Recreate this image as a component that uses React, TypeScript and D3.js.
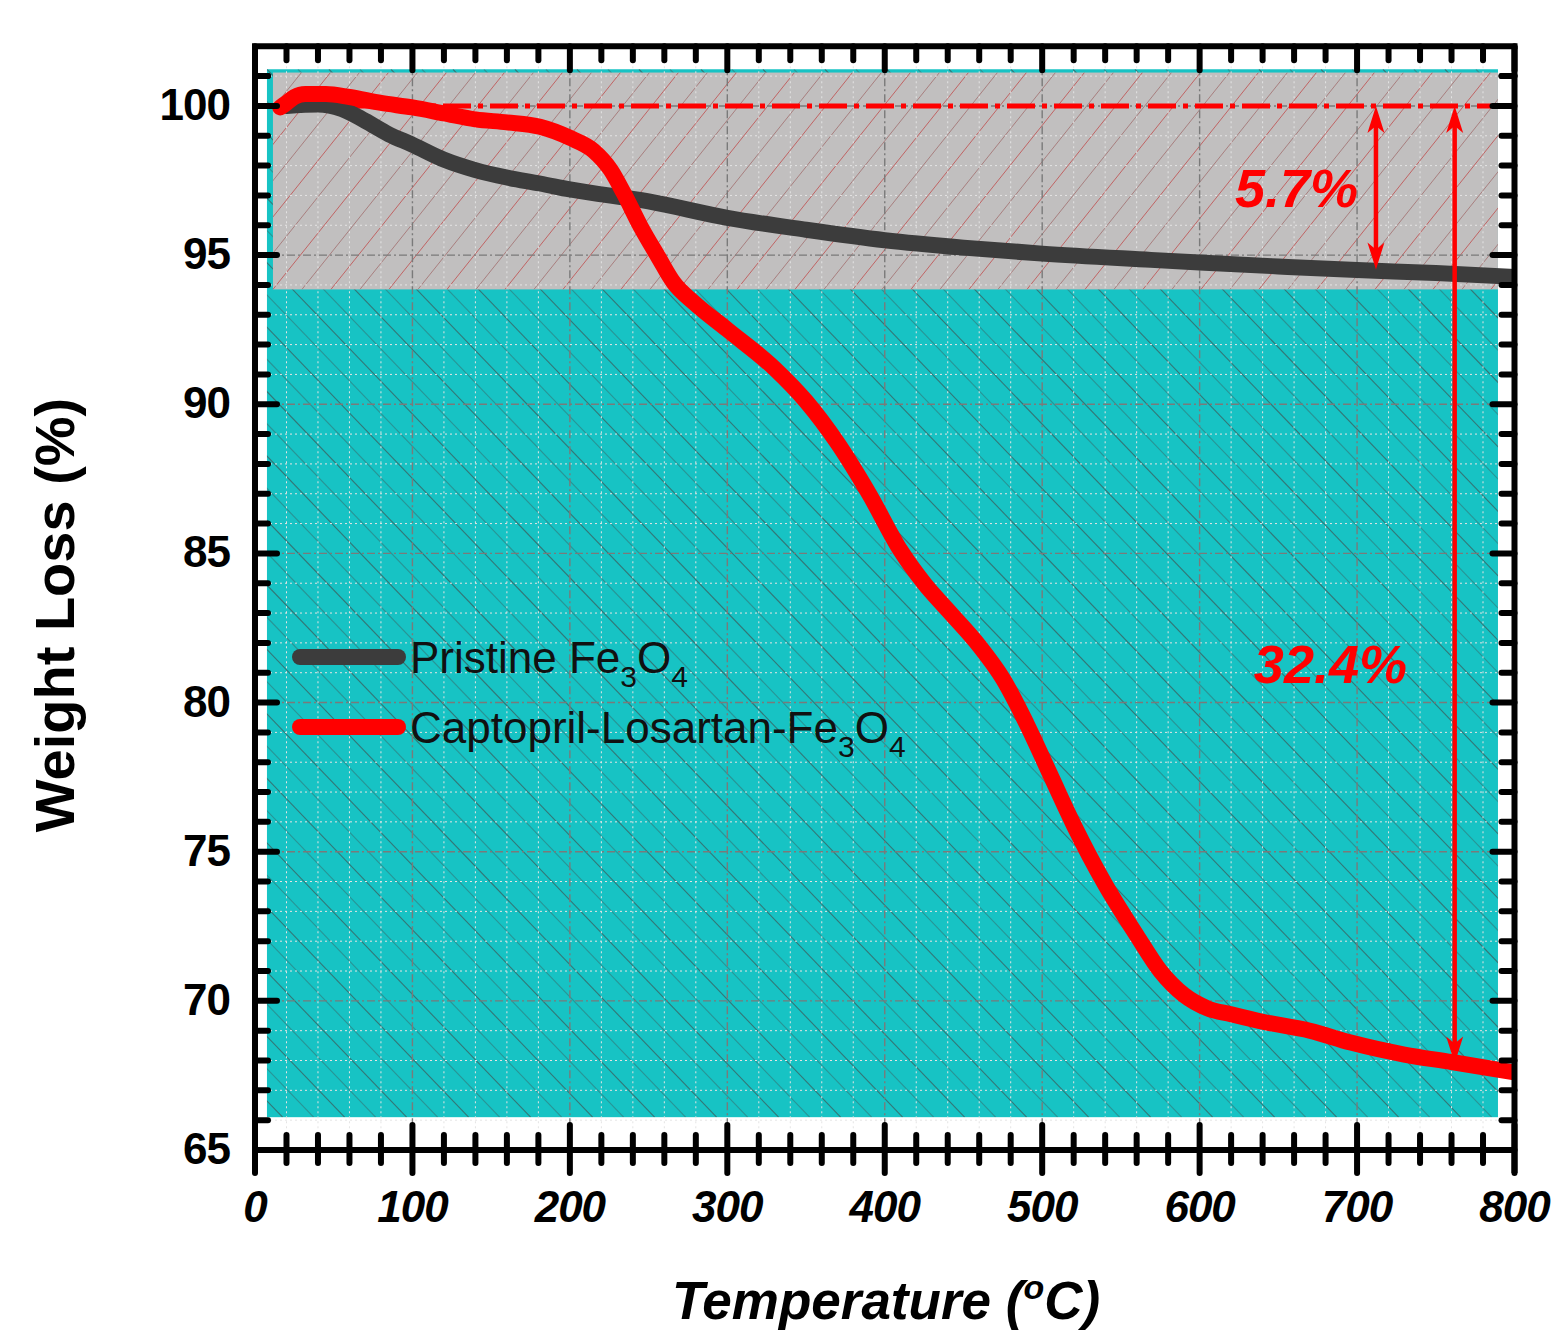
import React from 'react';
import * as d3 from 'd3';

// ---------- data ----------
const pristineT = [20, 40, 55, 70, 85, 100, 120, 140, 160, 181, 200, 250, 300, 350, 400, 450, 500, 569, 600, 650, 700, 750, 800];
const pristineW = [100.0, 100.05, 99.9, 99.5, 99.05, 98.7, 98.2, 97.85, 97.6, 97.4, 97.2, 96.8, 96.25, 95.85, 95.5, 95.25, 95.05, 94.84, 94.75, 94.62, 94.5, 94.4, 94.27];

const captoT = [16, 20, 25, 32, 45, 60, 80, 100, 120, 140, 160, 181, 200, 215, 226, 234, 245, 256, 266, 279, 300, 330, 350, 370, 390, 410, 425, 440, 460, 475, 490, 505, 520, 540, 560, 575, 590, 605, 620, 640, 670, 696, 730, 760, 800];
const captoW = [99.95, 100.1, 100.3, 100.4, 100.4, 100.3, 100.1, 99.95, 99.75, 99.55, 99.45, 99.3, 98.93, 98.5, 97.85, 97.1, 95.95, 94.95, 94.07, 93.4, 92.5, 91.2, 90.1, 88.7, 87.0, 85.1, 84.0, 83.1, 81.9, 80.8, 79.3, 77.6, 75.9, 73.9, 72.2, 71.0, 70.2, 69.75, 69.55, 69.3, 69.0, 68.6, 68.2, 67.95, 67.6];

const xMajorTicks = [0, 100, 200, 300, 400, 500, 600, 700, 800];
const yMajorTicks = [65, 70, 75, 80, 85, 90, 95, 100];
const xMinorTicks = d3.range(20, 800, 20).filter((v) => v % 100 !== 0);
const yMinorTicks = d3.range(66, 102, 1).filter((v) => v % 5 !== 0);

const seriesNames = ['Pristine Fe', 'Captopril-Losartan-Fe'];
const seriesColors = ['#3c3c3c', '#ff0000'];

// shaded regions (data coordinates)
const cyanRegion = { t0: 7.6, t1: 789.5, w0: 66.1, w1: 101.23 };
const greyRegion = { t0: 11.4, t1: 789.5, w0: 93.85, w1: 101.12 };

// annotations
const refLevel = 100;
const refLineEnd = 785;
const arrows = [
  { t: 712, from: 100, to: 94.52 },
  { t: 762, from: 100, to: 67.9 },
];
const annotLabels = [
  { text: '5.7%', t: 700.6, w: 96.61 },
  { text: '32.4%', t: 731.7, w: 80.66 },
];

// ---------- layout ----------
const W = 1554;
const H = 1331;
const x = d3.scaleLinear().domain([0, 800]).range([255, 1514.5]);
const y = d3.scaleLinear().domain([65, 102]).range([1150, 1150 - 37 * 29.83]);
const FONT = "'Liberation Sans', Arial, Helvetica, sans-serif";

export default function App() {
  const line = d3
    .line<[number, number]>()
    .x((d) => x(d[0]))
    .y((d) => y(d[1]))
    .curve(d3.curveMonotoneX);

  const pristinePts = pristineT.map((t, i) => [t, pristineW[i]] as [number, number]);
  const captoPts = captoT.map((t, i) => [t, captoW[i]] as [number, number]);

  const cx0 = x(cyanRegion.t0), cx1 = x(cyanRegion.t1), cy0 = y(cyanRegion.w1), cy1 = y(cyanRegion.w0);
  const gx0 = x(greyRegion.t0), gx1 = x(greyRegion.t1), gy0 = y(greyRegion.w1), gy1 = y(greyRegion.w0);

  // hatch lines
  const cyanHatch: JSX.Element[] = [];
  for (let k = -40; k < 60; k++) {
    const x0 = cx0 + k * 31;
    const slope = 1.04;
    cyanHatch.push(
      <line key={'ch' + k} x1={x0} y1={cy0} x2={x0 + (cy1 - cy0) / slope} y2={cy1}
        stroke="#3d5c5c" strokeOpacity={k % 2 === 0 ? 0.75 : 0.45} strokeWidth={1.1} />
    );
  }
  const greyHatch: JSX.Element[] = [];
  for (let k = -20; k < 60; k++) {
    const x0 = gx0 + k * 29;
    const slope = 1.25;
    greyHatch.push(
      <line key={'gh' + k} x1={x0} y1={gy1} x2={x0 + (gy1 - gy0) / slope} y2={gy0}
        stroke={k % 2 === 0 ? '#c04545' : '#a06a6a'} strokeOpacity={0.75} strokeWidth={1} />
    );
  }

  const plotL = x(0), plotR = x(800), plotT = y(102), plotB = y(65);

  const arrowHead = (tx: number, ty: number, dir: number, key: string) => {
    const L = 27, hw = 8.5, notch = 20;
    const pts = [
      [tx, ty],
      [tx - hw, ty - dir * L],
      [tx, ty - dir * notch],
      [tx + hw, ty - dir * L],
    ];
    return <polygon key={key} points={pts.map((p) => p.join(',')).join(' ')} fill="#ff0000" />;
  };

  return (
    <div style={{ position: 'absolute', left: 0, top: 0 }}>
      <svg width={W} height={H} viewBox={`0 0 ${W} ${H}`} style={{ display: 'block', background: '#fff' }}>
        <defs>
          <clipPath id="clipCyan"><rect x={cx0} y={cy0} width={cx1 - cx0} height={cy1 - cy0} /></clipPath>
          <clipPath id="clipGrey"><rect x={gx0} y={gy0} width={gx1 - gx0} height={gy1 - gy0} /></clipPath>
          <clipPath id="clipPlot"><rect x={plotL} y={plotT} width={plotR - plotL} height={plotB - plotT} /></clipPath>
        </defs>

        {/* shaded backgrounds */}
        <rect x={cx0} y={cy0} width={cx1 - cx0} height={cy1 - cy0} fill="#17c3c4" />
        <g clipPath="url(#clipCyan)">{cyanHatch}</g>
        <rect x={gx0} y={gy0} width={gx1 - gx0} height={gy1 - gy0} fill="#c1bfbf" />
        <g clipPath="url(#clipGrey)">{greyHatch}</g>

        {/* grid */}
        <g clipPath="url(#clipPlot)">
          {xMinorTicks.map((t) => (
            <line key={'gxm' + t} x1={x(t)} x2={x(t)} y1={plotT} y2={plotB} stroke="#e4e4e4" strokeWidth={1} strokeDasharray="2,3" />
          ))}
          {yMinorTicks.map((v) => (
            <line key={'gym' + v} x1={plotL} x2={plotR} y1={y(v)} y2={y(v)} stroke="#e4e4e4" strokeWidth={1} strokeDasharray="2,3" />
          ))}
          {xMajorTicks.slice(1, -1).map((t) => (
            <line key={'gx' + t} x1={x(t)} x2={x(t)} y1={plotT} y2={plotB} stroke="#7a7a7a" strokeWidth={1.4} strokeDasharray="8,3,2,3" />
          ))}
          {yMajorTicks.slice(1).map((v) => (
            <line key={'gy' + v} x1={plotL} x2={plotR} y1={y(v)} y2={y(v)} stroke="#7a7a7a" strokeWidth={1.4} strokeDasharray="8,3,2,3" />
          ))}
        </g>

        {/* reference dash-dot line at 100% */}
        <line x1={x(0)} x2={x(refLineEnd)} y1={y(refLevel)} y2={y(refLevel)} stroke="#ff0000" strokeWidth={5} strokeDasharray="28,7,5,7" />

        {/* curves */}
        <g clipPath="url(#clipPlot)">
          <path d={line(pristinePts) || ''} fill="none" stroke={seriesColors[0]} strokeWidth={16} strokeLinecap="round" strokeLinejoin="round" />
          <path d={line(captoPts) || ''} fill="none" stroke={seriesColors[1]} strokeWidth={16} strokeLinecap="round" strokeLinejoin="round" />
        </g>

        {/* arrows */}
        {arrows.map((a, i) => {
          const xa = x(a.t);
          const ya = y(a.from);
          const yb = y(a.to);
          return (
            <g key={'ar' + i}>
              <line x1={xa} x2={xa} y1={ya + 15} y2={yb - 15} stroke="#ff0000" strokeWidth={4.5} />
              {arrowHead(xa, ya, -1, 'ha' + i)}
              {arrowHead(xa, yb, 1, 'hb' + i)}
            </g>
          );
        })}
        {annotLabels.map((l, i) => (
          <text key={'al' + i} x={x(l.t)} y={y(l.w)} fill="#ff0000" fontFamily={FONT} fontWeight="bold" fontStyle="italic" fontSize={54} textAnchor="end">
            {l.text}
          </text>
        ))}

        {/* legend */}
        {seriesNames.map((name, i) => {
          const ly = 657 + i * 70;
          return (
            <g key={'lg' + i}>
              <line x1={300} x2={398} y1={ly} y2={ly} stroke={seriesColors[i]} strokeWidth={16} strokeLinecap="round" />
              <text x={410} y={ly + 16} fontFamily={FONT} fontSize={44} fill="#111">
                {name}
                <tspan fontSize={30} dy={14}>3</tspan>
                <tspan fontSize={44} dy={-14}>O</tspan>
                <tspan fontSize={30} dy={14}>4</tspan>
              </text>
            </g>
          );
        })}

        {/* frame */}
        <g stroke="#000" strokeLinecap="round">
          {yMajorTicks.map((v) => <line key={'lt' + v} x1={plotL} x2={plotL + 22} y1={y(v)} y2={y(v)} strokeWidth={6} />)}
          {[...yMinorTicks, 101].map((v) => <line key={'ltm' + v} x1={plotL} x2={plotL + 13} y1={y(v)} y2={y(v)} strokeWidth={6} />)}
          {yMajorTicks.map((v) => <line key={'rt' + v} x1={plotR} x2={plotR - 22} y1={y(v)} y2={y(v)} strokeWidth={6} />)}
          {[...yMinorTicks, 101].map((v) => <line key={'rtm' + v} x1={plotR} x2={plotR - 13} y1={y(v)} y2={y(v)} strokeWidth={6} />)}
          {xMajorTicks.map((t) => <line key={'tt' + t} x1={x(t)} x2={x(t)} y1={plotT} y2={plotT + 24} strokeWidth={6} />)}
          {xMinorTicks.map((t) => <line key={'ttm' + t} x1={x(t)} x2={x(t)} y1={plotT} y2={plotT + 14} strokeWidth={6} />)}
          {xMajorTicks.map((t) => <line key={'bt' + t} x1={x(t)} x2={x(t)} y1={plotB - 25} y2={plotB + 23} strokeWidth={6} />)}
          {xMinorTicks.map((t) => <line key={'btm' + t} x1={x(t)} x2={x(t)} y1={plotB - 15} y2={plotB + 13} strokeWidth={6} />)}
        </g>
        <g stroke="#000" strokeWidth={6} strokeLinecap="butt">
          <line x1={plotL - 3} x2={plotR + 3} y1={plotT} y2={plotT} />
          <line x1={plotL} x2={plotR} y1={plotB} y2={plotB} />
          <line x1={plotL} x2={plotL} y1={plotT} y2={plotB + 23} />
          <line x1={plotR} x2={plotR} y1={plotT} y2={plotB + 23} />
        </g>

        {/* tick labels */}
        {yMajorTicks.map((v) => (
          <text key={'yl' + v} x={230} y={y(v) + 14} textAnchor="end" fontFamily={FONT} fontWeight="bold" fontSize={44} fill="#000" letterSpacing={-1}>
            {v}
          </text>
        ))}
        {xMajorTicks.map((t) => (
          <text key={'xl' + t} x={x(t)} y={1222} textAnchor="middle" fontFamily={FONT} fontWeight="bold" fontStyle="italic" fontSize={44} fill="#000" letterSpacing={-1}>
            {t}
          </text>
        ))}

        {/* axis titles */}
        <text transform="translate(74,615) rotate(-90)" textAnchor="middle" fontFamily={FONT} fontWeight="bold" fontSize={56} fill="#000">
          Weight Loss (%)
        </text>
        <text x={886} y={1319} textAnchor="middle" fontFamily={FONT} fontWeight="bold" fontStyle="italic" fontSize={53} fill="#000">
          Temperature (<tspan fontSize={34} dy={-20}>o</tspan><tspan dy={20}>C)</tspan>
        </text>
      </svg>
    </div>
  );
}
